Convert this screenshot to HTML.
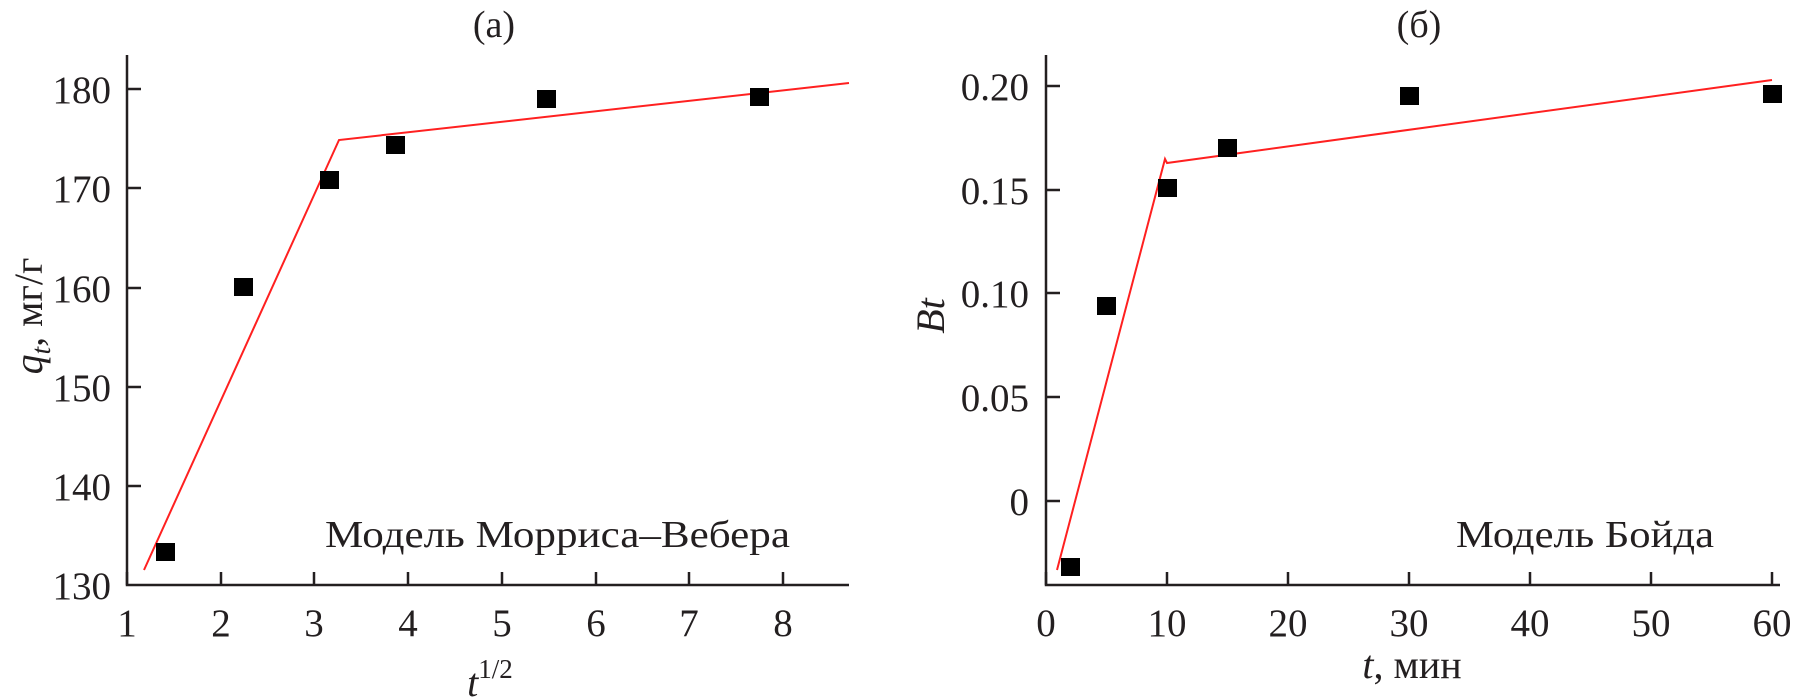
<!DOCTYPE html>
<html><head><meta charset="utf-8"><style>html,body{margin:0;padding:0;background:#fff}svg{display:block}</style></head>
<body>
<svg width="1793" height="700" xmlns="http://www.w3.org/2000/svg" font-family="Liberation Serif, serif" fill="#231f20">
<!-- Left plot -->
<g stroke="#231f20" stroke-width="2.5" fill="none">
<path d="M127,55 V585 H849"/>
<path d="M127,585 v-13 M221,585 v-13 M314,585 v-13 M408,585 v-13 M502,585 v-13 M596,585 v-13 M689,585 v-13 M783,585 v-13"/>
<path d="M127,89 h14 M127,188 h14 M127,288 h14 M127,387 h14 M127,486 h14"/>
</g>
<g font-size="39" text-anchor="end">
<text x="111" y="103">180</text><text x="111" y="202">170</text><text x="111" y="302">160</text><text x="111" y="401">150</text><text x="111" y="500">140</text><text x="111" y="599">130</text>
</g>
<g font-size="39" text-anchor="middle">
<text x="127" y="636">1</text><text x="221" y="636">2</text><text x="314" y="636">3</text><text x="408" y="636">4</text><text x="502" y="636">5</text><text x="596" y="636">6</text><text x="689" y="636">7</text><text x="783" y="636">8</text>
</g>
<text x="494" y="37" font-size="38" text-anchor="middle">(a)</text>
<text x="325" y="547" font-size="38" textLength="465" lengthAdjust="spacingAndGlyphs">Модель Морриса–Вебера</text>
<text x="490" y="696" font-size="40" text-anchor="middle"><tspan font-style="italic">t</tspan><tspan font-size="27" dy="-18">1/2</tspan></text>
<text transform="translate(42,316) rotate(-90)" font-size="40" text-anchor="middle"><tspan font-style="italic">q</tspan><tspan font-style="italic" font-size="27" dy="8">t</tspan><tspan dy="-8">, мг/г</tspan></text>
<polyline points="144,570 339,140 849,83" stroke="#ff2020" stroke-width="2" fill="none"/>
<g fill="#000">
<rect x="156" y="543" width="19" height="18"/>
<rect x="234" y="278" width="19" height="18"/>
<rect x="320" y="171" width="19" height="18"/>
<rect x="386" y="136" width="19" height="18"/>
<rect x="537" y="90" width="19" height="18"/>
<rect x="750" y="88" width="19" height="18"/>
</g>
<!-- Right plot -->
<g stroke="#231f20" stroke-width="2.5" fill="none">
<path d="M1046,55 V585 H1780"/>
<path d="M1046,585 v-13 M1167,585 v-13 M1288,585 v-13 M1409,585 v-13 M1530,585 v-13 M1651,585 v-13 M1772,585 v-13"/>
<path d="M1046,86 h14 M1046,190 h14 M1046,293 h14 M1046,397 h14 M1046,501 h14"/>
</g>
<g font-size="39" text-anchor="end">
<text x="1029" y="100">0.20</text><text x="1029" y="204">0.15</text><text x="1029" y="307">0.10</text><text x="1029" y="411">0.05</text><text x="1029" y="515">0</text>
</g>
<g font-size="39" text-anchor="middle">
<text x="1046" y="636">0</text><text x="1167" y="636">10</text><text x="1288" y="636">20</text><text x="1409" y="636">30</text><text x="1530" y="636">40</text><text x="1651" y="636">50</text><text x="1772" y="636">60</text>
</g>
<text x="1419" y="37" font-size="38" text-anchor="middle">(б)</text>
<text x="1456" y="547" font-size="38" textLength="258" lengthAdjust="spacingAndGlyphs">Модель Бойда</text>
<text x="1412" y="678" font-size="40" text-anchor="middle"><tspan font-style="italic">t</tspan>, мин</text>
<text transform="translate(944,316) rotate(-90)" font-size="40" text-anchor="middle" font-style="italic">Bt</text>
<polyline points="1057,570 1165,159 1167,163 1772,80" stroke="#ff2020" stroke-width="2" fill="none"/>
<g fill="#000">
<rect x="1061" y="558" width="19" height="18"/>
<rect x="1097" y="297" width="19" height="18"/>
<rect x="1158" y="179" width="19" height="18"/>
<rect x="1218" y="139" width="19" height="18"/>
<rect x="1400" y="87" width="19" height="18"/>
<rect x="1763" y="85" width="19" height="18"/>
</g>
</svg>
</body></html>
